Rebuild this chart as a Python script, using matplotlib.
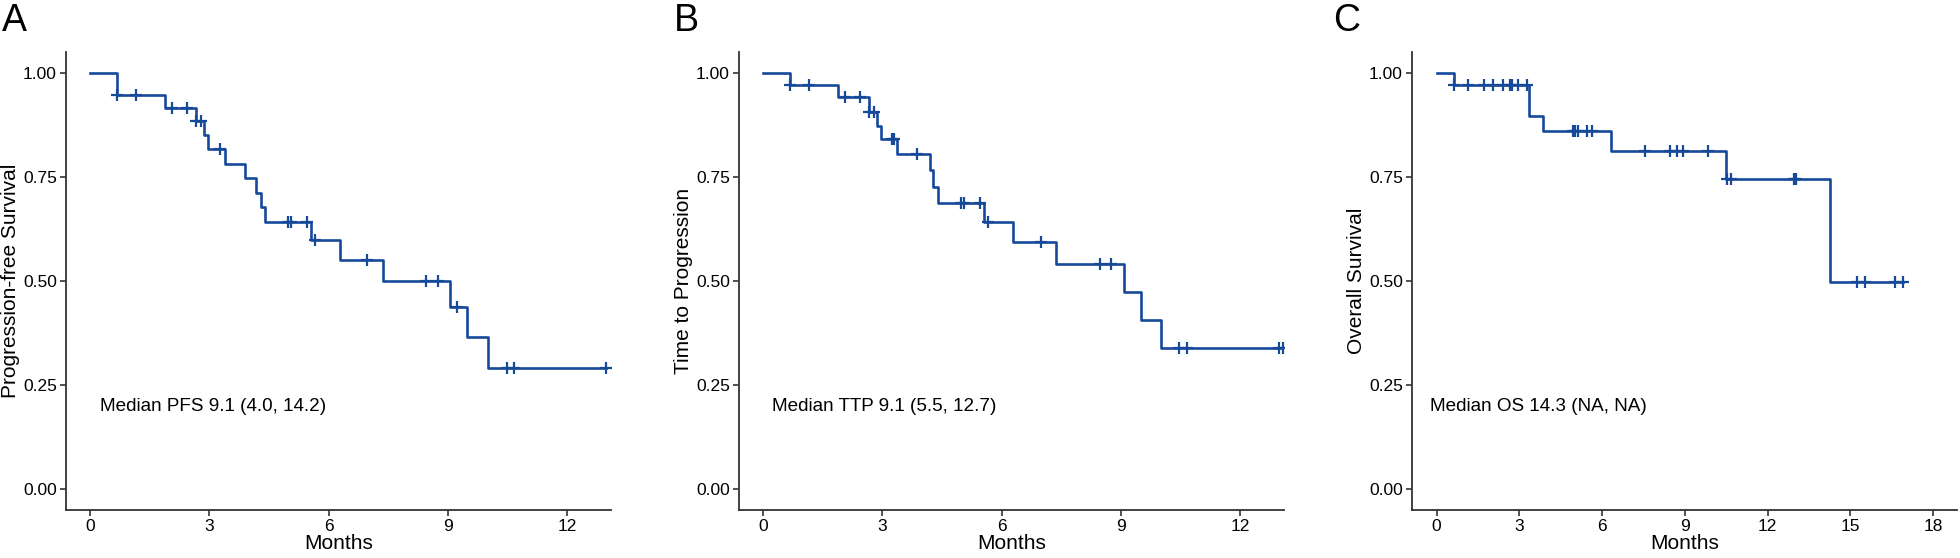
import numpy as np
import matplotlib
matplotlib.use("Agg")
import matplotlib.pyplot as plt

plt.rcParams['font.family'] = ['Liberation Sans', 'DejaVu Sans']

# Panel A: progression-free survival
pfs_t = [0, 0.69, 1.89, 2.68, 2.86, 2.96, 3.40, 3.89, 4.17, 4.29, 4.39, 5.57, 6.28, 7.36, 9.05, 9.47, 10.0]
pfs_s = [1.0, 0.949, 0.917, 0.885, 0.852, 0.817, 0.782, 0.748, 0.713, 0.678, 0.642, 0.599, 0.551, 0.501, 0.438, 0.365, 0.292]
pfs_cens = [0.69, 1.17, 2.06, 2.45, 2.68, 2.80, 3.28, 4.97, 5.06, 5.46, 5.65, 6.96, 8.45, 8.74, 9.23, 10.48, 10.65, 12.97]

# Panel B: time to progression
ttp_t = [0, 0.68, 1.89, 2.68, 2.88, 2.98, 3.38, 4.19, 4.27, 4.40, 5.57, 6.29, 7.38, 9.08, 9.50, 10.0]
ttp_s = [1.0, 0.973, 0.942, 0.908, 0.874, 0.842, 0.805, 0.768, 0.727, 0.689, 0.643, 0.594, 0.542, 0.474, 0.406, 0.339]
ttp_cens = [0.68, 1.17, 2.07, 2.44, 2.68, 2.80, 3.24, 3.30, 3.87, 4.98, 5.05, 5.47, 5.66, 6.98, 8.47, 8.76, 10.46, 10.65, 12.98, 13.07]

# Panel C: overall survival
os_t = [0, 0.64, 3.35, 3.85, 6.33, 10.48, 14.27]
os_s = [1.0, 0.973, 0.898, 0.861, 0.814, 0.746, 0.497]
os_cens = [0.64, 1.13, 1.73, 2.03, 2.42, 2.66, 2.72, 2.97, 3.27, 4.94, 5.02, 5.14, 5.47, 5.63,
           7.56, 8.47, 8.71, 8.93, 9.86, 10.53, 10.67, 12.97, 13.03, 15.24, 15.54, 16.63, 16.93]

panels = [
    ("A", pfs_t, pfs_s, pfs_cens, "Progression-free Survival", "Median PFS 9.1 (4.0, 14.2)",
     (-0.6, 13.1), [0, 3, 6, 9, 12], 0.25),
    ("B", ttp_t, ttp_s, ttp_cens, "Time to Progression", "Median TTP 9.1 (5.5, 12.7)",
     (-0.6, 13.1), [0, 3, 6, 9, 12], 0.23),
    ("C", os_t, os_s, os_cens, "Overall Survival", "Median OS 14.3 (NA, NA)",
     (-0.89, 18.87), [0, 3, 6, 9, 12, 15, 18], -0.24),
]

color = "#16499A"
fig = plt.figure(figsize=(19.6, 5.58), dpi=100)
lefts = [66 / 1960, 739 / 1960, 1412 / 1960]
letter_x = [0.001, 0.344, 0.68]

for i, (letter, t, s, cens, ylab, med, xlim, xticks, tx) in enumerate(panels):
    ax = fig.add_axes([lefts[i], 48 / 558, 545 / 1960, 457.5 / 558])
    t = np.array(t)
    s = np.array(s)
    tt = np.append(t, max(cens))
    ss = np.append(s, s[-1])
    ax.step(tt, ss, where='post', color=color, lw=1.9)
    cens = np.array(cens)
    idx = np.searchsorted(t, cens, side='right') - 1
    ax.plot(cens, s[idx], ls='none', marker='+', ms=9, mew=1.6, color=color)

    ax.set_xlim(*xlim)
    ax.set_ylim(-0.05, 1.05)
    ax.set_xticks(xticks)
    ax.set_yticks([0, 0.25, 0.5, 0.75, 1.0])
    ax.set_yticklabels(["0.00", "0.25", "0.50", "0.75", "1.00"])
    ax.tick_params(labelsize=12.5, length=4, width=1.2, color="#333333", labelcolor="black", pad=2.5)
    for sp in ['top', 'right']:
        ax.spines[sp].set_visible(False)
    for sp in ['left', 'bottom']:
        ax.spines[sp].set_color("#333333")
        ax.spines[sp].set_linewidth(1.3)
    ax.set_xlabel("Months", fontsize=15, labelpad=0)
    ax.set_ylabel(ylab, fontsize=15, labelpad=2)
    ax.text(tx, 0.2, med, fontsize=13.6, ha='left', va='center')
    fig.text(letter_x[i], 0.995, letter, fontsize=27, ha='left', va='top')

fig.savefig("out.png", dpi=100)
